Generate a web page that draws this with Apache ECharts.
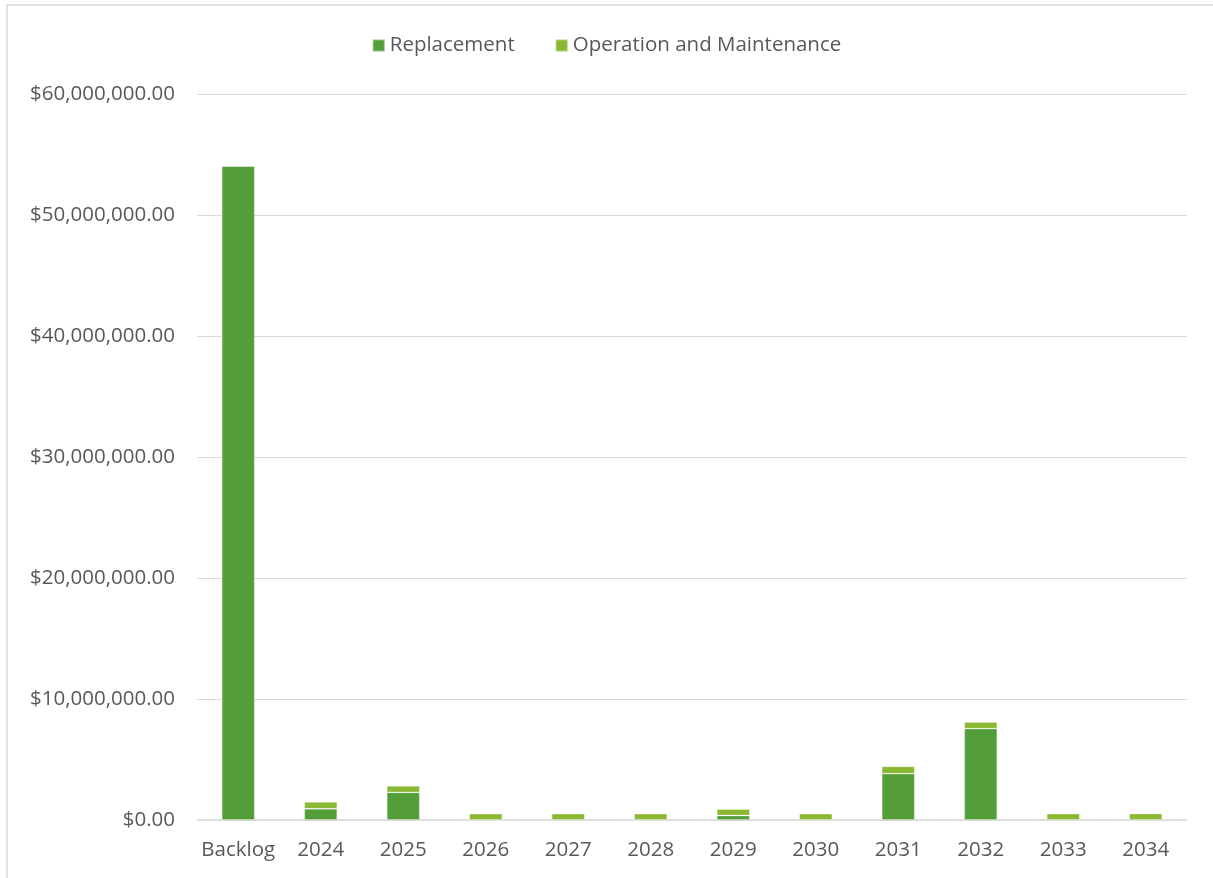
<!DOCTYPE html>
<html>
<head>
<meta charset="utf-8">
<script src="https://cdn.jsdelivr.net/npm/echarts@6/dist/echarts.min.js"></script>
<style>
html,body{margin:0;padding:0;background:#fff;}
#chart{width:1213px;height:878px;}
</style>
</head>
<body>
<div id="chart"></div>
<script>
const categories = ['Backlog','2024','2025','2026','2027','2028','2029','2030','2031','2032','2033','2034'];
const replacement = [54050000, 930000, 2280000, 0, 0, 0, 370000, 0, 3830000, 7550000, 0, 0];
const operationMaintenance = [0, 560000, 540000, 520000, 520000, 520000, 540000, 520000, 600000, 550000, 520000, 530000];
const seriesNames = ['Replacement', 'Operation and Maintenance'];
const yMax = 60000000;
const yInterval = 10000000;

const fontFamily = '"Open Sans", "Liberation Sans", sans-serif';
const textColor = '#595959';
const fontSize = 20.5;

function money(v){
  return '$' + v.toLocaleString('en-US', {minimumFractionDigits:2, maximumFractionDigits:2});
}

const chart = echarts.init(document.getElementById('chart'));
chart.setOption({
  animation: false,
  textStyle: {fontFamily: fontFamily, color: textColor},
  graphic: [{
    type: 'rect',
    shape: {x: 7, y: 5, width: 1220, height: 890},
    style: {fill: 'none', stroke: '#D9D9D9', lineWidth: 1.5},
    silent: true
  }],
  legend: {
    top: 30,
    left: 'center',
    itemWidth: 12,
    itemHeight: 12,
    itemGap: 40,
    icon: 'rect',
    textStyle: {fontFamily: fontFamily, fontSize: fontSize, color: textColor},
    data: seriesNames
  },
  grid: {left: 197, right: 26, top: 94, bottom: 58, containLabel: false},
  xAxis: {
    type: 'category',
    data: categories,
    axisLine: {lineStyle: {color: '#D9D9D9', width: 1.5}},
    axisTick: {show: false},
    axisLabel: {interval: 0, fontFamily: fontFamily, fontSize: fontSize, color: textColor, margin: 20}
  },
  yAxis: {
    type: 'value',
    min: 0,
    max: yMax,
    interval: yInterval,
    axisLine: {show: false},
    axisTick: {show: false},
    splitLine: {lineStyle: {color: '#D9D9D9', width: 1.2}},
    axisLabel: {fontFamily: fontFamily, fontSize: fontSize, color: textColor, margin: 22, formatter: money}
  },
  series: [
    {
      name: seriesNames[0],
      type: 'bar',
      stack: 'total',
      data: replacement,
      barWidth: '40%',
      itemStyle: {color: '#549E39', borderColor: 'rgba(255,255,255,0.35)', borderWidth: 0.8}
    },
    {
      name: seriesNames[1],
      type: 'bar',
      stack: 'total',
      data: operationMaintenance,
      barWidth: '40%',
      itemStyle: {color: '#8AB833', borderColor: 'rgba(255,255,255,0.35)', borderWidth: 0.8}
    }
  ]
});
</script>
</body>
</html>
